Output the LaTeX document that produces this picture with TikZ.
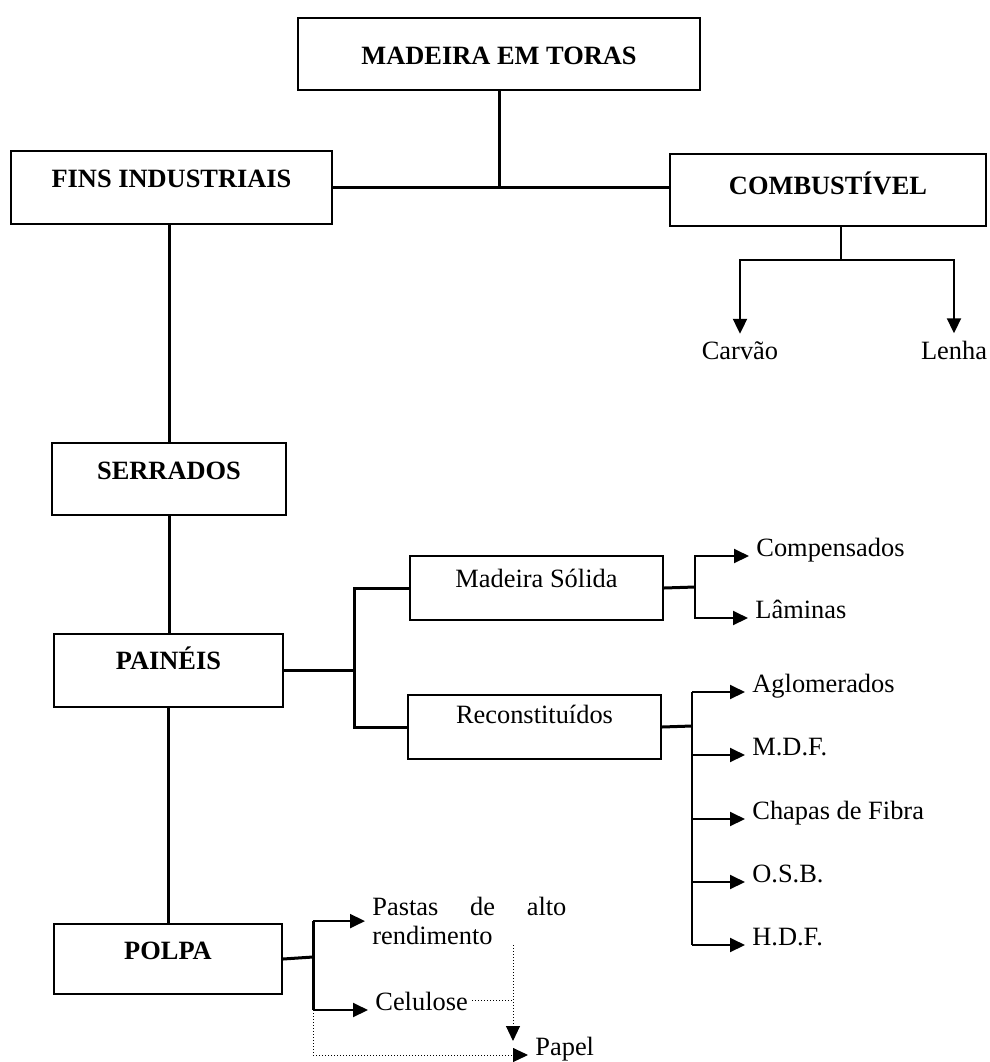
\documentclass[tikz,border=0pt]{standalone}
\usepackage{fontspec}
\setmainfont{Liberation Serif}
\usetikzlibrary{arrows.meta,positioning}

\begin{document}
\begin{tikzpicture}[x=0.5pt,y=-0.5pt]

\tikzset{caixa/.style={draw, line width=1pt, inner sep=0pt, anchor=north west, font=\fontsize{13.2}{14.4}\selectfont\bfseries},
caixafina/.style={caixa, font=\fontsize{13.2}{14.4}\selectfont},
rotulo/.style={inner sep=2pt, font=\fontsize{13.2}{14.4}\selectfont},
liga/.style={line width=1.5pt},
seta/.style={line width=1pt, -{Triangle[length=7.5pt,width=7pt]}, shorten >=1.5pt},
pontilhado/.style={line width=0.5pt, dash pattern=on 0.5pt off 1pt}}

\useasboundingbox (0,0) rectangle (990,1062);

%caixas principais
\node[caixa, minimum width=201pt, text height=23pt, text depth=13pt] (toras) at (297,17) {MADEIRA EM TORAS};
\node[caixa, minimum width=160.5pt, text height=18pt, text depth=18.5pt] (fins) at (10,150) {FINS INDUSTRIAIS};
\node[caixa, minimum width=158pt, text height=20pt, text depth=16pt] (comb) at (669,153) {COMBUSTÍVEL};
\node[caixa, minimum width=117pt, text height=18pt, text depth=18pt] (serrados) at (51,442) {SERRADOS};
\node[caixa, minimum width=114.5pt, text height=17.5pt, text depth=19pt] (paineis) at (53,633) {PAINÉIS};
\node[caixa, minimum width=114pt, text height=17.5pt, text depth=17.5pt] (polpa) at (53,923) {POLPA};
\node[caixafina, minimum width=126.5pt, text height=15.5pt, text depth=16.5pt] (madsol) at (409,555) {Madeira Sólida};
\node[caixafina, minimum width=126.5pt, text height=14pt, text depth=18pt] (recon) at (407,694) {Reconstituídos};

\draw[liga] (toras.south) -- (toras.south |- fins.east);
\draw[liga] (fins.east) -- (fins.east -| comb.west);
\draw[liga] (serrados.north) -- (serrados.north |- fins.south);
\draw[liga] (serrados.south) -- (serrados.south |- paineis.north);
\draw[liga] (paineis.south) -- (paineis.south |- polpa.north);

%combustivel
\coordinate (cb) at (841,260);
\node[rotulo, anchor=base] (carvao) at (740,359) {Carvão};
\node[rotulo, anchor=base] (lenha) at (954,359) {Lenha};
\draw[line width=1pt] (comb.south -| cb) -- (cb);
\draw[seta] (cb) -| (carvao.north);
\draw[seta] (cb) -| (lenha.north);

%paineis
\coordinate (bp) at (354,667);
\draw[liga] (paineis.east) -- (paineis.east -| bp);
\draw[liga] (madsol.west) -| (bp) |- (recon.west);

\coordinate (bm) at (695,587);
\node[rotulo, anchor=base west] (compensados) at (752,556) {Compensados};
\node[rotulo, anchor=base west] (laminas) at (751,618) {Lâminas};
\draw[liga] (madsol.east) -- (bm);
\draw[seta] (bm) |- (compensados.base west);
\draw[seta] (bm) |- (laminas.base west);

\coordinate (br) at (692,726);
\draw[liga] (recon.east) -- (br);
\foreach \nome/\y/\texto in {aglom/692/Aglomerados, mdf/755/M.D.F., chapas/819/Chapas de Fibra, osb/882/O.S.B., hdf/945/H.D.F.}
  \node[rotulo, anchor=base west] (\nome) at (748,\y) {\texto};
\draw[line width=1pt] (br |- aglom.base) -- (br |- hdf.base);
\foreach \nome in {aglom,mdf,chapas,osb,hdf}
  \draw[seta] (br |- \nome.base) -- (\nome.base west);

%polpa
\coordinate (bpol) at (313,957);
\node[rotulo, anchor=north west, align=left] (pastas) at (368,893) {\makebox[97pt][s]{Pastas de alto}\\rendimento};
\node[rotulo, anchor=base west] (celulose) at (371,1010) {Celulose};
\node[rotulo, anchor=base west] (papel) at (531,1055) {Papel};
\draw[liga] (polpa.east) -- (bpol);
\draw[liga] (pastas.west -| bpol) -- (celulose.base -| bpol);
\draw[seta] (pastas.west -| bpol) -- (pastas.west);
\draw[seta] (celulose.base -| bpol) -- (celulose.base west);

%ligacoes pontilhadas para o papel
\coordinate (pd) at (513,945);
\coordinate (pf) at (513,1044);
\draw[pontilhado] (celulose.east) -- (celulose.east -| pd);
\draw[seta, pontilhado] (pd) -- (pf);
\draw[seta, pontilhado] (celulose.base -| bpol) |- (papel.base west);

\end{tikzpicture}
\end{document}
